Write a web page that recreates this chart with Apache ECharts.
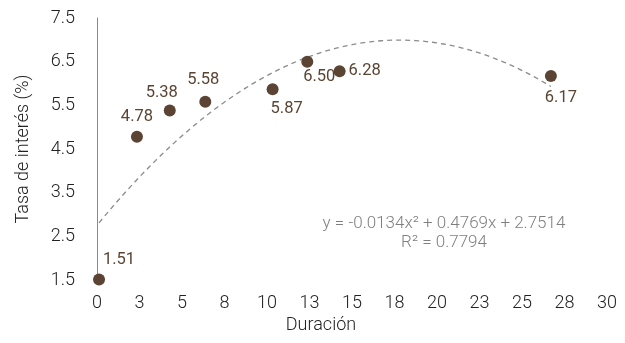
<!DOCTYPE html>
<html>
<head>
<meta charset="utf-8">
<script src="https://cdn.jsdelivr.net/npm/echarts@6/dist/echarts.min.js"></script>
<style>
  html, body { margin: 0; padding: 0; background: #fff; }
  #chart { width: 625px; height: 343px; }
</style>
</head>
<body>
<div id="chart"></div>
<script>
// Plazo (años) y tasa de interés (%)
const duracion = [0.12, 2.35, 4.28, 6.37, 10.33, 12.37, 14.27, 26.7];
const tasa = [1.51, 4.78, 5.38, 5.58, 5.87, 6.50, 6.28, 6.17];

// Coeficientes de la tendencia polinómica (grado 2): a·x² + b·x + c
const coefs = [-0.0134, 0.4769, 2.7514];
const r2 = 0.7794;

// Ubicación de cada etiqueta respecto de su punto
const labelPlacement = [
  { position: 'top', offset: [20, 0] },
  { position: 'top', offset: [0, 0] },
  { position: 'top', offset: [-8, 2] },
  { position: 'top', offset: [-2, -2] },
  { position: 'bottom', offset: [14, 0] },
  { position: 'bottom', offset: [12, -4] },
  { position: 'right', offset: [-2, 0] },
  { position: 'bottom', offset: [10, 2] }
];

const fmt = (v) => v.toFixed(2);
const points = duracion.map((x, i) => ({
  value: [x, tasa[i]],
  label: Object.assign({ show: true, formatter: () => fmt(tasa[i]) }, labelPlacement[i])
}));

// Curva de tendencia evaluada entre el primer y el último plazo
const trend = [];
const x0 = duracion[0], x1 = duracion[duracion.length - 1];
const steps = 80;
for (let k = 0; k <= steps; k++) {
  const x = x0 + (x1 - x0) * k / steps;
  trend.push([x, coefs[0] * x * x + coefs[1] * x + coefs[2]]);
}

const font = 'Roboto, "Liberation Sans", sans-serif';
const chart = echarts.init(document.getElementById('chart'), null, { renderer: 'canvas' });
chart.setOption({
  animation: false,
  textStyle: { fontFamily: font },
  grid: { left: 97, right: 18, top: 18, bottom: 63 },
  xAxis: {
    type: 'value', min: 0, max: 30, interval: 2.5,
    name: 'Duración', nameLocation: 'middle', nameGap: 35,
    nameTextStyle: { fontSize: 18, color: '#222', fontFamily: font, fontWeight: 300, padding: [0, 62, 0, 0] },
    axisLine: { show: false }, axisTick: { show: false },
    splitLine: { show: false },
    axisLabel: { fontSize: 18, color: '#222', margin: 14, fontWeight: 300, formatter: (v) => String(Math.round(v)) }
  },
  yAxis: {
    type: 'value', min: 1.5, max: 7.5, interval: 1,
    name: 'Tasa de interés (%)', nameLocation: 'middle', nameGap: 65,
    nameTextStyle: { fontSize: 18, color: '#222', fontFamily: font, fontWeight: 300 },
    axisLine: { show: true, lineStyle: { color: '#8a8a8a', width: 1 } },
    axisTick: { show: false }, splitLine: { show: false },
    axisLabel: { fontSize: 18, color: '#222', margin: 22, fontWeight: 300, formatter: (v) => v.toFixed(1) }
  },
  series: [
    {
      type: 'line', data: trend, showSymbol: false, smooth: false, z: 1,
      lineStyle: { color: '#8c8c8c', width: 1.3, type: [5, 4] }
    },
    {
      type: 'scatter', data: points, symbolSize: 12, z: 3,
      itemStyle: { color: '#5b4433', opacity: 1 },
      label: { color: '#5b4433', fontSize: 16.5, fontFamily: font, distance: 5 }
    }
  ],
  graphic: [
    {
      type: 'text', x: 444, y: 224,
      style: {
        text: 'y = ' + coefs[0] + 'x² + ' + coefs[1] + 'x + ' + coefs[2],
        fill: '#7f7f7f', font: '300 17px ' + font, align: 'center', verticalAlign: 'middle'
      }
    },
    {
      type: 'text', x: 444, y: 243,
      style: {
        text: 'R² = ' + r2,
        fill: '#7f7f7f', font: '300 17px ' + font, align: 'center', verticalAlign: 'middle'
      }
    }
  ]
});
</script>
</body>
</html>
